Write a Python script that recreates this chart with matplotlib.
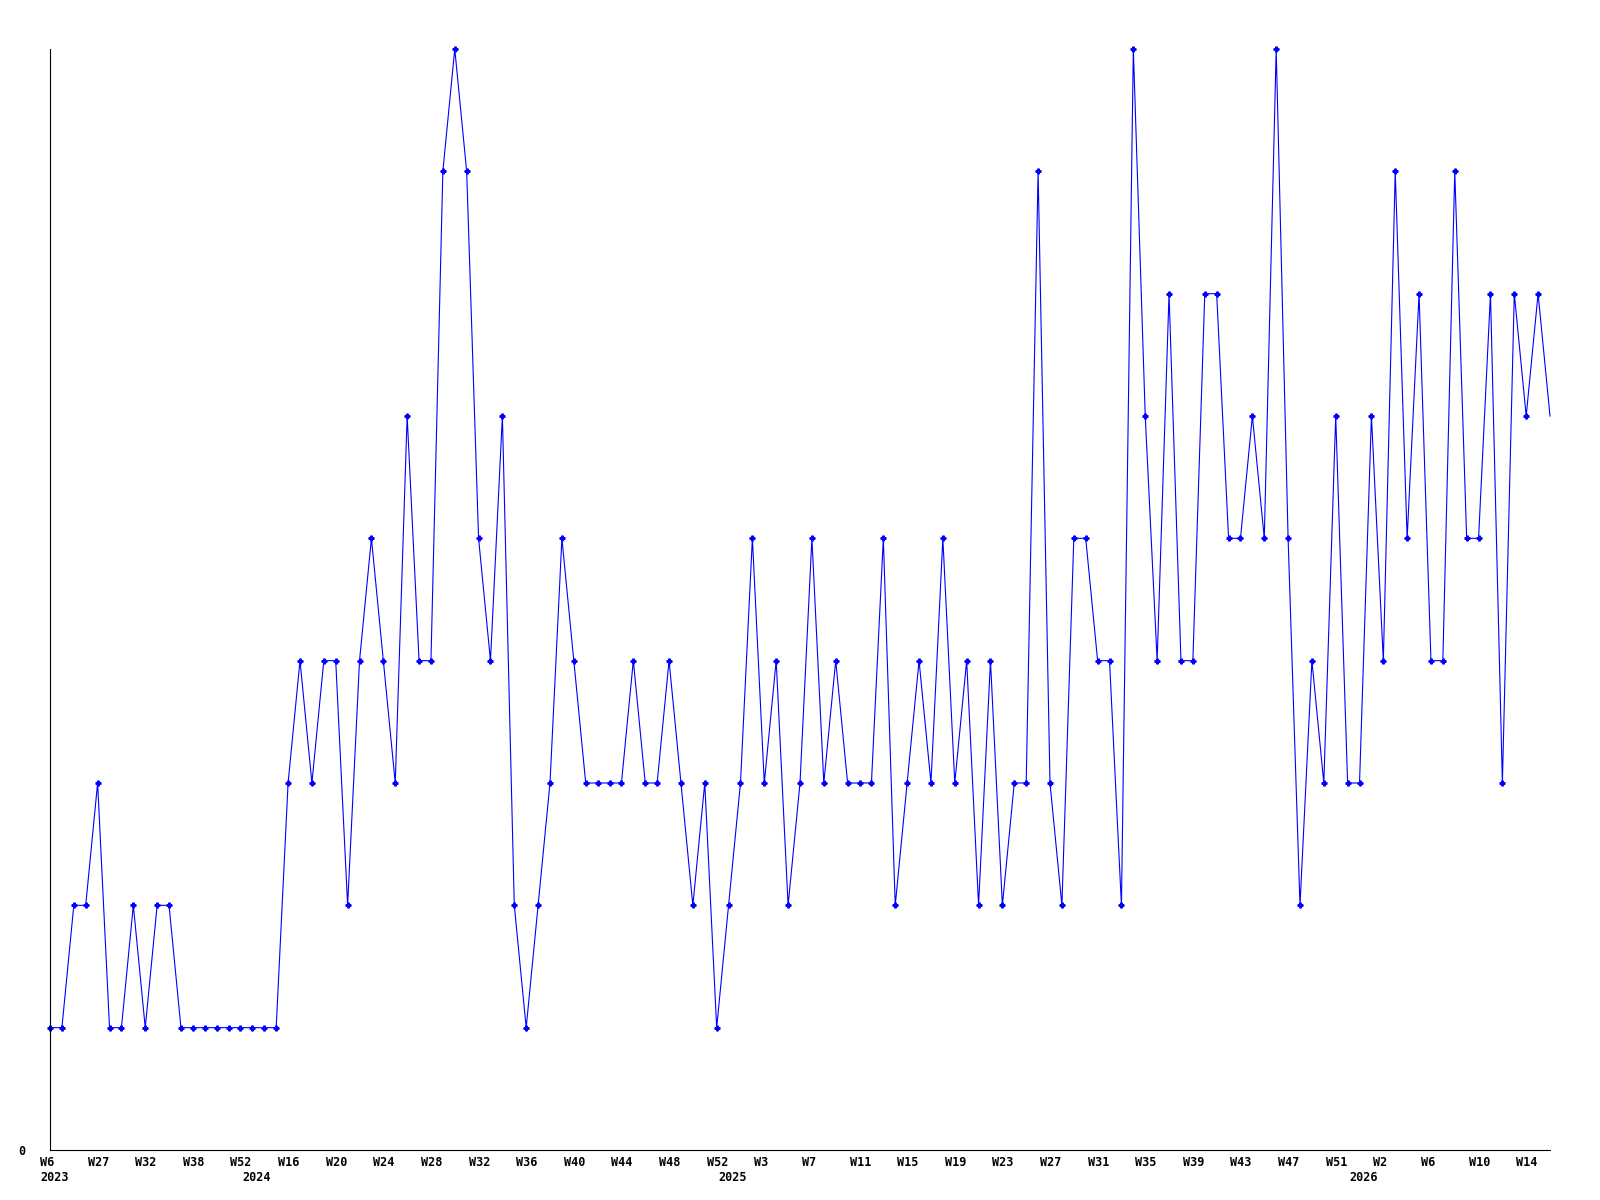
import matplotlib
matplotlib.use("Agg")
import matplotlib.pyplot as plt

# weekly counts, one point per reported week
years = [2023] * 17 + [2024] * 40 + [2025] * 53 + [2026] * 17
weeks_2023 = [6, 10, 20, 25, 27, 28, 30, 31, 32, 34, 35, 36, 38, 40, 45, 50, 52]
weeks_2024 = list(range(13, 53))
weeks_2025 = list(range(0, 53))
weeks_2026 = list(range(0, 17))
weeks = weeks_2023 + weeks_2024 + weeks_2025 + weeks_2026

values = [
    1, 1, 2, 2, 3, 1, 1, 2, 1, 2, 2, 1, 1, 1, 1, 1, 1, 1, 1, 1,
    3, 4, 3, 4, 4, 2, 4, 5, 4, 3, 6, 4, 4, 8, 9, 8, 5, 4, 6, 2,
    1, 2, 3, 5, 4, 3, 3, 3, 3, 4, 3, 3, 4, 3, 2, 3, 1, 2, 3, 5,
    3, 4, 2, 3, 5, 3, 4, 3, 3, 3, 5, 2, 3, 4, 3, 5, 3, 4, 2, 4,
    2, 3, 3, 8, 3, 2, 5, 5, 4, 4, 2, 9, 6, 4, 7, 4, 4, 7, 7, 5,
    5, 6, 5, 9, 5, 2, 4, 3, 6, 3, 3, 6, 4, 8, 5, 7, 4, 4, 8, 5,
    5, 7, 3, 7, 6, 7, 6,
]

font = dict(family="DejaVu Sans Mono", weight="bold", size=8.5)

fig = plt.figure(figsize=(16, 12), dpi=100)
ax = fig.add_axes([50 / 1600, 50 / 1200, 1500 / 1600, 1101 / 1200])

x = list(range(len(values)))
ax.plot(x, values, color="#0000ff", lw=0.8, marker="P", ms=3.5,
        markevery=list(range(len(values) - 1)), clip_on=False)

ax.set_xlim(0, len(values) - 1)
ax.set_ylim(0, 9)
for side in ["top", "right"]:
    ax.spines[side].set_visible(False)
for side in ["left", "bottom"]:
    ax.spines[side].set_linewidth(0.8)

ax.set_xticks([])
ax.set_yticks([0])
ax.set_yticklabels(["0"], fontdict=font)
ax.tick_params(axis="y", length=0, pad=18)

# week labels every 4th point, year label at first point of each year
for i in range(0, len(values), 4):
    ax.annotate(f"W{weeks[i]}", xy=(i, 0), xycoords=("data", "axes fraction"),
                xytext=(-10, -6), textcoords="offset pixels",
                ha="left", va="top", **font)
for i in range(len(values)):
    if i == 0 or years[i] != years[i - 1]:
        ax.annotate(str(years[i]), xy=(i, 0), xycoords=("data", "axes fraction"),
                    xytext=(-10, -21), textcoords="offset pixels",
                    ha="left", va="top", **font)

fig.savefig("out.png", dpi=100)
